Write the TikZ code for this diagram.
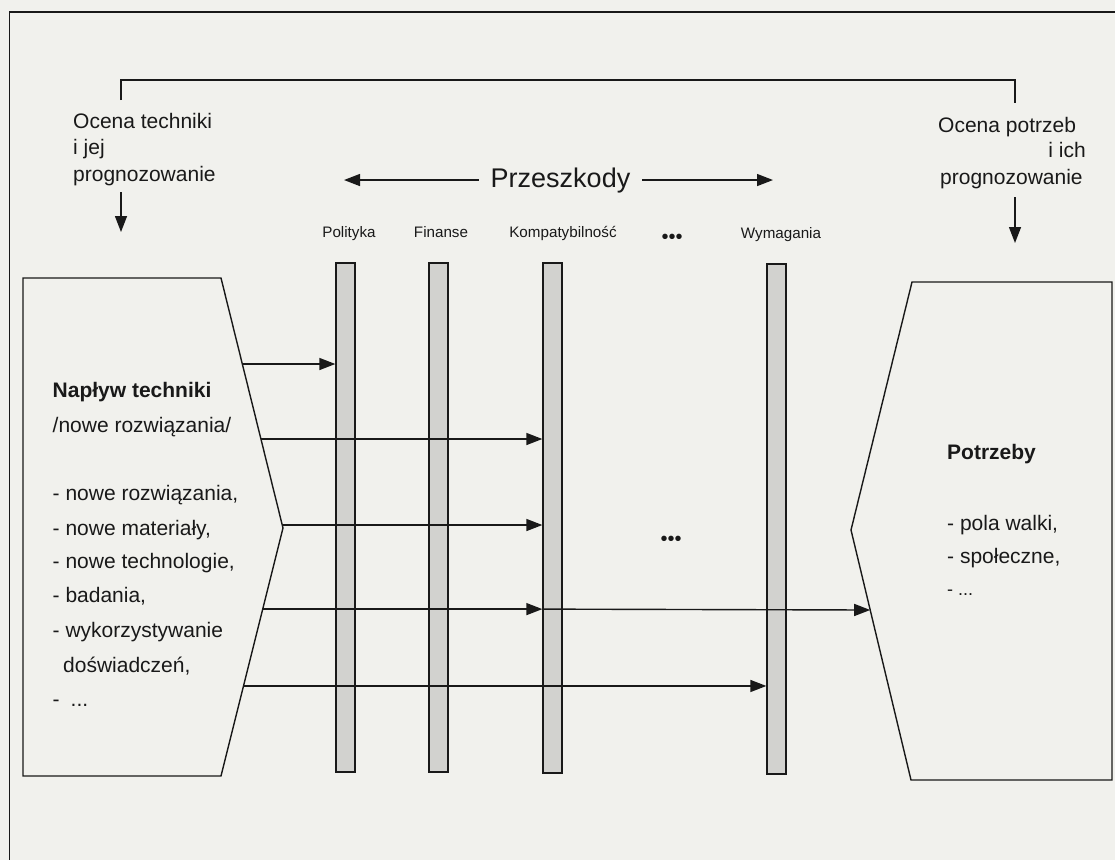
\documentclass[tikz,border=0pt]{standalone}
\usepackage{fontspec}
\setmainfont{Liberation Sans}
\usetikzlibrary{arrows.meta,calc}
\definecolor{paper}{RGB}{241,241,237}
\definecolor{ink}{RGB}{25,25,25}
\definecolor{barfill}{RGB}{210,210,207}
\begin{document}
\begin{tikzpicture}[x=1pt,y=-1pt,
  line/.style={draw=ink,line width=1.4pt},
  arr/.style={line,-{Triangle[length=16pt,width=12pt]}},
  bar/.style={draw=ink,line width=1.3pt,fill=barfill,minimum width=19pt,inner sep=0pt},
  txt/.style={font=\fontsize{21}{25}\selectfont,text=ink,inner sep=0pt,anchor=base west},
  btxt/.style={txt,font=\fontsize{21}{25}\selectfont\bfseries},
  lbl/.style={font=\fontsize{15.2}{18}\selectfont,text=ink,inner sep=0pt,anchor=base},
  dots/.style={font=\fontsize{20}{22}\selectfont,text=ink,inner sep=0pt,anchor=base}]
\fill[paper] (0,0) rectangle (1115,860);
\useasboundingbox (0,0) rectangle (1115,860);
% outer frame (cropped)
\draw[line] (1115,12) -- (9.6,12) -- (9.6,860);
% top texts
\node[txt] (ot1) at (73,128) {Ocena techniki};
\node[txt] (ot2) at (73,154) {i jej};
\node[txt] (ot3) at (73,181) {prognozowanie};
\node[txt] (op1) at (938,132) {Ocena potrzeb};
\node[txt,anchor=base east] (op2) at (1086,157) {i ich};
\node[txt] (op3) at (940,184) {prognozowanie};
% bracket
\coordinate (brL) at (121,100);
\coordinate (brR) at (1015,103);
\draw[line] (brL) |- (1015,80) -- (brR);
% down arrows
\coordinate (dL1) at (121,192); \coordinate (dL2) at (121,232);
\coordinate (dR1) at (1015,197); \coordinate (dR2) at (1015,243);
\draw[arr] (dL1) -- (dL2);
\draw[arr] (dR1) -- (dR2);
% Przeszkody
\node[font=\fontsize{27}{30}\selectfont,text=ink,inner sep=0pt,anchor=base] (prz) at (560.5,187) {Przeszkody};
\coordinate (pl) at (344,181);
\coordinate (pr) at (773,181);
\draw[arr] ($(prz.west)+(-12,0)$) -- (prz.west -| pl);
\draw[arr] ($(prz.east)+(12,0)$) -- (prz.east -| pr);
% column labels
\node[lbl] (lpol) at (349,237) {Polityka};
\node[lbl] (lfin) at (441,237) {Finanse};
\node[lbl] (lkom) at (563,237) {Kompatybilność};
\node[dots] (ldots) at (672,243) {•••};
\node[lbl] (lwym) at (781,238) {Wymagania};
% bars
\node[bar,minimum height=509pt] (pol) at (345.5,517.5) {};
\node[bar,minimum height=509pt] (fin) at (438.5,517.5) {};
\node[bar,minimum height=510pt] (komp) at (552.5,518) {};
\node[bar,minimum height=510pt] (wym) at (776.5,519) {};
\node[dots] (mdots) at (671,545) {•••};
% left box
\coordinate (LTL) at (23,278); \coordinate (LT) at (221,278);
\coordinate (LA) at (283,528); \coordinate (LB) at (221,776);
\coordinate (LBL) at (23,776);
\draw[line] (LTL) -- (LT) -- (LA) -- (LB) -- (LBL) -- cycle;
% right box
\coordinate (RT) at (912,282); \coordinate (RTR) at (1112,282);
\coordinate (RBR) at (1112,780); \coordinate (RB) at (911,780);
\coordinate (RA) at (851,530);
\draw[line] (RT) -- (RTR) -- (RBR) -- (RB) -- (RA) -- cycle;
% left box texts
\node[btxt] (nt) at (52.5,397) {Napływ techniki};
\node[txt] (nr) at (52.5,432) {/nowe rozwiązania/};
\node[txt] (l1) at (52.5,500) {- nowe rozwiązania,};
\node[txt] (l2) at (52.5,535) {- nowe materiały,};
\node[txt] (l3) at (52.5,568) {- nowe technologie,};
\node[txt] (l4) at (52.5,602) {- badania,};
\node[txt] (l5) at (52.5,637) {- wykorzystywanie};
\node[txt] (l6) at (63,672) {doświadczeń,};
\node[txt] (l7) at (52.5,706) {-\hspace{11pt}...};
% right box texts
\node[btxt] (pt) at (947,459) {Potrzeby};
\node[txt] (r1) at (947,530) {- pola walki,};
\node[txt] (r2) at (947,563) {- społeczne,};
\node[txt,font=\fontsize{18}{22}\selectfont] (r3) at (947,595) {- ...};
% arrows
\coordinate (s1) at ($(LT)!0.344!(LA)$);
\coordinate (s2) at ($(LT)!0.644!(LA)$);
\coordinate (s3) at ($(LT)!0.988!(LA)$);
\coordinate (s4) at ($(LA)!0.327!(LB)$);
\coordinate (s5) at ($(LA)!0.637!(LB)$);
\coordinate (e6) at ($(RA)!0.32!(RB)$);
\draw[arr] (s1) -- (s1 -| pol.west);
\draw[arr] (s2) -- (s2 -| komp.west);
\draw[arr] (s3) -- (s3 -| komp.west);
\draw[arr] (s4) -- (s4 -| komp.west);
\draw[arr] (s5) -- (s5 -| wym.west);
\draw[arr] (s4 -| komp.west) -- (e6);
\end{tikzpicture}
\end{document}
